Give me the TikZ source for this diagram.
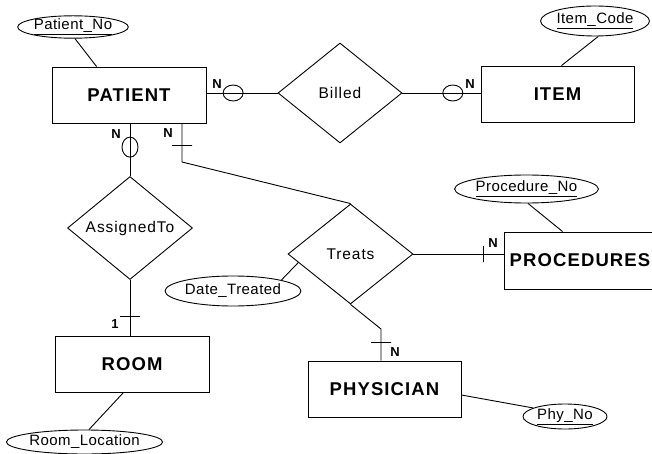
\documentclass[tikz,border=0pt]{standalone}
\usepackage{fontspec}
\setmainfont{Liberation Sans}
\usetikzlibrary{shapes.geometric,calc}
\begin{document}
\begin{tikzpicture}[x=1pt,y=-1pt,line width=0.9pt,
  entity/.style={draw,rectangle,inner sep=0pt,font=\bfseries\fontsize{18.5}{20}\selectfont\addfontfeature{LetterSpace=6}},
  rel/.style={draw,diamond,inner sep=0pt,font=\fontsize{15.5}{18}\selectfont\addfontfeature{LetterSpace=6}},
  attr/.style={draw,ellipse,inner sep=0pt,font=\fontsize{15}{17}\selectfont\addfontfeature{LetterSpace=3}},
  card/.style={inner sep=0pt,font=\bfseries\fontsize{13}{14}\selectfont},
  ohoriz/.style={draw,ellipse,inner sep=0pt,minimum width=20pt,minimum height=16pt},
  overt/.style={draw,ellipse,inner sep=0pt,minimum width=16pt,minimum height=20pt},
  tickh/.style={draw,rectangle,inner sep=0pt,minimum width=20pt,minimum height=0pt},
  tickv/.style={draw,rectangle,inner sep=0pt,minimum width=0pt,minimum height=16pt}]
\useasboundingbox (0,0) rectangle (652,454);
\clip (0,0) rectangle (652,454);
\fill[white] (0,0) rectangle (652,454);

% entities
\node[entity,minimum width=154pt,minimum height=56pt] (patient) at (129,95) {PATIENT};
\node[entity,minimum width=153pt,minimum height=56pt] (item) at (557.5,94) {ITEM};
\node[entity,minimum width=154pt,minimum height=56pt] (room) at (132,364) {ROOM};
\node[entity,minimum width=153pt,minimum height=56pt] (physician) at (384.5,389) {PHYSICIAN};
\node[entity,minimum width=152pt,minimum height=57pt] (procedures) at (580,260.5) {PROCEDURES};

% relationships
\node[rel,minimum width=124pt,minimum height=100pt] (billed) at (340,93) {Billed};
\node[rel,minimum width=125pt,minimum height=99pt] (assigned) at (130,228) {AssignedTo};
\node[rel,minimum width=125pt,minimum height=100pt] (treats) at (350.5,254) {Treats};

% attributes
\node[attr,minimum width=100pt,minimum height=22pt] (pno) at (73,27) {\underline{Patient\_No}};
\node[attr,minimum width=98pt,minimum height=30pt] (icode) at (595,21) {\underline{Item\_Code}};
\node[attr,minimum width=137pt,minimum height=28pt] (procno) at (526.5,189) {\underline{Procedure\_No}};
\node[attr,minimum width=124pt,minimum height=30pt] (dtreat) at (233,291) {Date\_Treated};
\node[attr,minimum width=84pt,minimum height=25pt] (phyno) at (565,416.5) {\underline{Phy\_No}};
\node[attr,minimum width=145pt,minimum height=24pt] (rloc) at (84.5,442) {Room\_Location};

% bend points
\coordinate (bendA) at (182,162);
\coordinate (bendB) at (381,329);

% relationship connectors
\draw (patient.east |- billed.west) -- node[ohoriz,pos=0.375]{} (billed.west);
\draw (billed.east) -- node[ohoriz,pos=0.645]{} (billed.east -| item.west);
\draw (patient.south -| assigned.north) -- node[overt,pos=0.45]{} (assigned.north);
\draw (assigned.south) -- node[tickh,pos=0.66]{} (assigned.south |- room.north);
\draw (bendA |- patient.south) -- node[tickh,pos=0.56]{} (bendA) -- (treats.north);
\draw (treats.east) -- node[tickv,pos=0.78]{} (treats.east -| procedures.west);
\draw (treats.south) -- (bendB) -- node[tickh,pos=0.44]{} (bendB |- physician.north);

% attribute connectors
\draw ($(pno.south)+(2,0)$) -- ($(patient.north west)+(45,0)$);
\draw (icode.-78) -- ($(item.north)+(4,0)$);
\draw ($(procno.south)+(1.5,0)$) -- ($(procedures.north west)+(59,0)$);
\draw ($(treats.west)!0.17!(treats.south)$) -- (dtreat.north east);
\draw ($(physician.east)+(0,6)$) -- (phyno.165);
\draw ($(room.south west)+(69,0)$) -- ($(rloc.north)+(4.5,0)$);

% cardinalities
\node[card] (n1) at (217,84) {N};
\node[card] (n2) at (470,84) {N};
\node[card] (n3) at (116,134) {N};
\node[card] (n4) at (168,133) {N};
\node[card] (n5) at (115,324) {1};
\node[card] (n6) at (493,243) {N};
\node[card] (n7) at (395,352) {N};
\end{tikzpicture}
\end{document}
